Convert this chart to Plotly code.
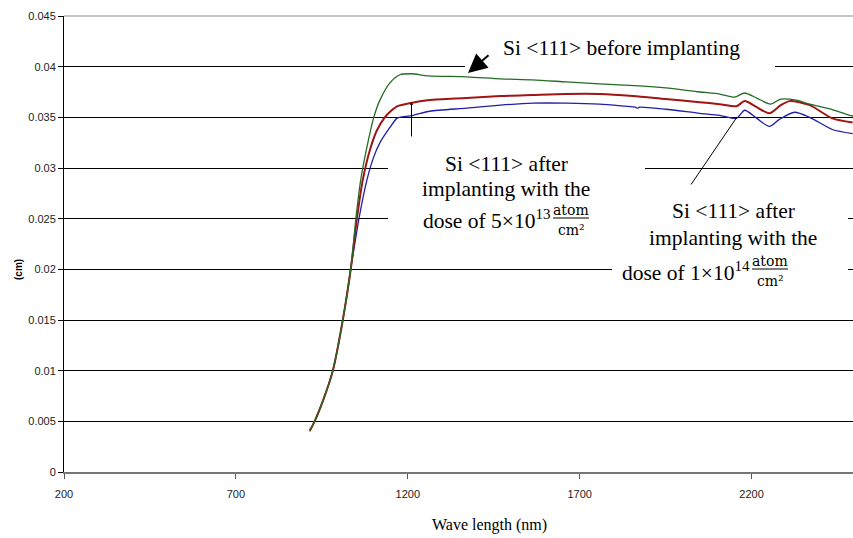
import plotly.graph_objects as go

# Absorption-depth spectra of Si <111> samples
wl_before = [915, 929, 955, 982, 1011, 1034, 1049, 1063, 1082, 1101, 1119, 1148, 1177, 1210,
             1260, 1371, 1470, 1563, 1660, 1758, 1874, 1950, 2049, 2107, 2150, 2180, 2215,
             2255, 2285, 2330, 2369, 2430, 2485, 2500]
val_before = [0.0041, 0.0050, 0.0072, 0.0100, 0.0150, 0.0200, 0.0250, 0.0288, 0.0322, 0.0350,
              0.0367, 0.0384, 0.0392, 0.0393, 0.0391, 0.0390, 0.0388, 0.0387, 0.0385, 0.0383,
              0.0381, 0.0379, 0.0375, 0.0373, 0.0370, 0.0374, 0.0369, 0.0363, 0.0368, 0.0367,
              0.0363, 0.0358, 0.0352, 0.0351]

wl_5e13 = [915, 929, 955, 982, 1011, 1034, 1052, 1069, 1090, 1110, 1133, 1150, 1170, 1206,
           1264, 1371, 1470, 1563, 1660, 1758, 1855, 1950, 2049, 2107, 2156, 2180, 2215,
           2252, 2285, 2311, 2369, 2435, 2494]
val_5e13 = [0.0041, 0.0050, 0.0072, 0.0100, 0.0150, 0.0200, 0.0250, 0.0288, 0.0318, 0.0337,
            0.0350, 0.0356, 0.0361, 0.0364, 0.0367, 0.0369, 0.0371, 0.0372, 0.0373, 0.0373,
            0.0371, 0.0368, 0.0365, 0.0363, 0.0361, 0.0366, 0.0360, 0.0354, 0.0362, 0.0366,
            0.0362, 0.0349, 0.0345]

wl_1e14 = [915, 929, 955, 982, 1011, 1034, 1058, 1081, 1100, 1119, 1148, 1168, 1177, 1215,
           1264, 1371, 1470, 1563, 1660, 1758, 1830, 1862, 1868, 1874, 1950, 2049, 2107,
           2156, 2180, 2215, 2252, 2281, 2325, 2369, 2435, 2494]
val_1e14 = [0.0040, 0.0050, 0.0072, 0.0100, 0.0150, 0.0200, 0.0250, 0.0288, 0.0310, 0.0325,
            0.0340, 0.0349, 0.0350, 0.0352, 0.0356, 0.0359, 0.0362, 0.0364, 0.0364, 0.0363,
            0.0361, 0.0360, 0.0359, 0.0360, 0.0358, 0.0354, 0.0352, 0.0349, 0.0357, 0.0349,
            0.0341, 0.0348, 0.0355, 0.0350, 0.0338, 0.0334]

x_ticks = [200, 700, 1200, 1700, 2200]
y_ticks = [0, 0.005, 0.01, 0.015, 0.02, 0.025, 0.03, 0.035, 0.04, 0.045]
y_tick_text = ["0", "0.005", "0.01", "0.015", "0.02", "0.025", "0.03", "0.035", "0.04", "0.045"]

W, H = 853, 538
ML, MR, MT, MB = 64, 0, 16, 66
PW, PH = W - ML - MR, H - MT - MB


def px(x):
    return (x - ML) / PW


def py(y):
    return (H - MB - y) / PH


fig = go.Figure()
fig.add_trace(go.Scatter(x=wl_1e14, y=val_1e14, mode="lines",
                         line=dict(color="#1f1fa8", width=1.3, shape="spline", smoothing=0.7)))
fig.add_trace(go.Scatter(x=wl_5e13, y=val_5e13, mode="lines",
                         line=dict(color="#a01414", width=2, shape="spline", smoothing=0.7)))
fig.add_trace(go.Scatter(x=wl_before, y=val_before, mode="lines",
                         line=dict(color="#256b25", width=1.3, shape="spline", smoothing=0.7)))

serif = "Liberation Serif, Times New Roman, serif"
txt = dict(family=serif, size=21.5, color="black")
frac_font = dict(family="DejaVu Serif", size=14, color="black")

shapes = []
# white label panels that interrupt the gridlines
for x0, y0, x1, y1 in [(465, 32, 775, 71), (388, 141, 645, 255), (612, 186, 848, 300)]:
    shapes.append(dict(type="rect", xref="paper", yref="paper", layer="above",
                       x0=px(x0), x1=px(x1), y0=py(y1), y1=py(y0),
                       fillcolor="white", line=dict(width=0)))
# top border line
shapes.append(dict(type="line", xref="paper", yref="paper", x0=0, x1=1, y0=1, y1=1,
                   line=dict(color="#8a8a8a", width=1)))


def label(text, x, y, font=txt, xanchor="center"):
    return dict(text=text, x=px(x), y=py(y), xref="paper", yref="paper", showarrow=False,
                font=font, xanchor=xanchor, yanchor="middle")


annotations = [label("Si &lt;111&gt; before implanting", 621, 48)]

# two multi-line dose labels, each ending in an atom/cm² fraction
for (cx, y1, y2, y3, xr, fc, dose) in [(506, 164, 189, 219, 553, 571, "5×10<sup>13</sup>"),
                                       (733, 211, 238, 270, 752, 770, "1×10<sup>14</sup>")]:
    annotations += [
        label("Si &lt;111&gt; after", cx, y1),
        label("implanting with the", cx, y2),
        label("dose of " + dose, xr, y3 + 1, xanchor="right"),
        label("atom", fc, y3 - 9, font=frac_font),
        label("cm²", fc, y3 + 11, font=frac_font),
    ]
    shapes.append(dict(type="line", xref="paper", yref="paper",
                       x0=px(fc - 18), x1=px(fc + 18), y0=py(y3 - 1), y1=py(y3 - 1),
                       line=dict(color="black", width=1)))

annotations += [
    # pointers (tail offsets in pixels)
    dict(text="", x=px(468), y=py(73), xref="paper", yref="paper", showarrow=True,
         ax=22, ay=-19, arrowhead=2, arrowsize=1.9, arrowwidth=2, arrowcolor="black"),
    dict(text="", x=px(411.5), y=py(102), xref="paper", yref="paper", showarrow=True,
         ax=0, ay=36, arrowhead=2, arrowsize=0.6, arrowwidth=1, arrowcolor="black"),
    dict(text="", x=px(737), y=py(117), xref="paper", yref="paper", showarrow=True,
         ax=-47, ay=69, arrowhead=0, arrowwidth=1, arrowcolor="black"),
    # axis titles
    label("Wave length (nm)", 490, 525, font=dict(family=serif, size=16, color="black")),
    dict(text="<b>(cm)</b>", x=px(18), y=py(270), xref="paper", yref="paper", textangle=-90,
         showarrow=False, font=dict(family="Liberation Sans, Arial", size=10, color="black"),
         xanchor="center", yanchor="middle"),
]

fig.update_layout(
    width=W, height=H,
    margin=dict(l=ML, r=MR, t=MT, b=MB, pad=0),
    paper_bgcolor="white", plot_bgcolor="white",
    showlegend=False,
    shapes=shapes,
    annotations=annotations,
    xaxis=dict(range=[200, 2495], tickvals=x_ticks, ticktext=[str(v) for v in x_ticks],
               showgrid=False, zeroline=False, showline=True, linecolor="#777777", linewidth=2,
               ticks="outside", ticklen=5, tickcolor="#555555", ticklabelstandoff=6,
               tickfont=dict(family="Liberation Sans Narrow, Arial Narrow, Liberation Sans", size=11,
                             color="#222222")),
    yaxis=dict(range=[0, 0.045], tickvals=y_ticks, ticktext=y_tick_text,
               showgrid=True, gridcolor="black", gridwidth=1, zeroline=False,
               showline=True, linecolor="black", linewidth=1,
               ticks="outside", ticklen=5, tickcolor="black",
               tickfont=dict(family="Liberation Sans, Arial", size=11, color="#222222")),
)

fig.write_html("out.html")
